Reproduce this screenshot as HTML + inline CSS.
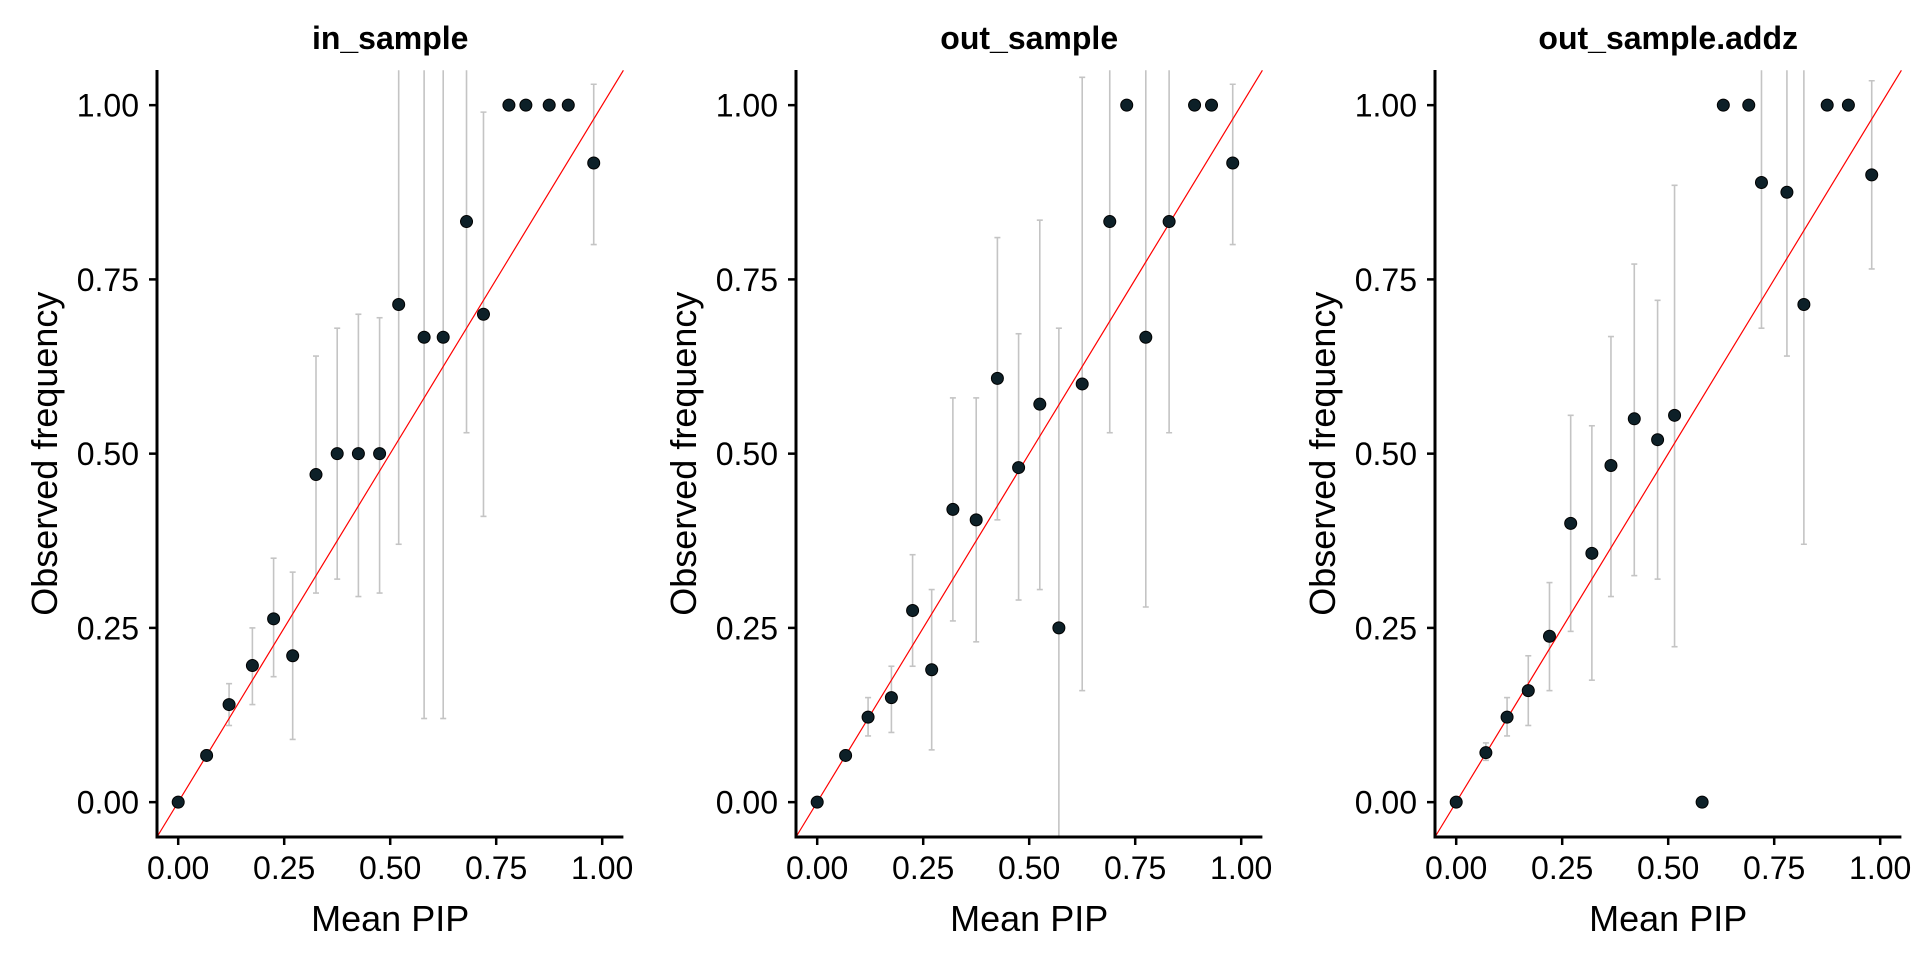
<!DOCTYPE html>
<html><head><meta charset="utf-8"><style>
html,body{margin:0;padding:0;background:#fff;}
svg{display:block;font-family:"Liberation Sans",Arial,sans-serif;}
</style></head><body>
<svg id="chart" width="1920" height="960" viewBox="0 0 1920 960"></svg>
<script>
const panelTitles = ["in_sample", "out_sample", "out_sample.addz"];
const tickValues = [0, 0.25, 0.5, 0.75, 1];
const tickLabels = ["0.00", "0.25", "0.50", "0.75", "1.00"];
const inX  = [0,0.067,0.12,0.175,0.225,0.27,0.325,0.375,0.425,0.475,0.52,0.58,0.625,0.68,0.72,0.78,0.82,0.875,0.92,0.98];
const inY  = [0,0.067,0.14,0.196,0.263,0.21,0.47,0.5,0.5,0.5,0.714,0.667,0.667,0.833,0.70,1,1,1,1,0.917];
const inLo = [null,0.06,0.11,0.14,0.18,0.09,0.30,0.32,0.295,0.30,0.37,0.12,0.12,0.53,0.41,null,null,null,null,0.80];
const inHi = [null,0.075,0.17,0.25,0.35,0.33,0.64,0.68,0.70,0.695,1.1,1.1,1.1,1.1,0.99,null,null,null,null,1.03];
const outX  = [0,0.067,0.12,0.175,0.225,0.27,0.32,0.375,0.425,0.475,0.525,0.57,0.625,0.69,0.73,0.775,0.83,0.89,0.93,0.98];
const outY  = [0,0.067,0.122,0.15,0.275,0.19,0.42,0.405,0.608,0.48,0.571,0.25,0.6,0.833,1,0.667,0.833,1,1,0.917];
const outLo = [null,0.06,0.095,0.10,0.195,0.075,0.26,0.23,0.405,0.29,0.305,-0.1,0.16,0.53,null,0.28,0.53,null,null,0.80];
const outHi = [null,0.075,0.15,0.195,0.355,0.305,0.58,0.58,0.81,0.672,0.835,0.68,1.04,1.1,null,1.1,1.1,null,null,1.03];
const azX  = [0,0.07,0.12,0.17,0.22,0.27,0.32,0.365,0.42,0.475,0.515,0.58,0.63,0.69,0.72,0.78,0.82,0.875,0.925,0.98];
const azY  = [0,0.071,0.122,0.16,0.238,0.4,0.357,0.483,0.55,0.52,0.555,0,1,1,0.889,0.875,0.714,1,1,0.9];
const azLo = [null,0.06,0.095,0.11,0.16,0.245,0.175,0.295,0.325,0.32,0.223,null,null,null,0.68,0.64,0.37,null,null,0.765];
const azHi = [null,0.085,0.15,0.21,0.315,0.555,0.54,0.668,0.772,0.72,0.885,null,null,null,1.1,1.1,1.1,null,null,1.035];

const panels = [[inX,inY,inLo,inHi],[outX,outY,outLo,outHi],[azX,azY,azLo,azHi]];
const NS = "http://www.w3.org/2000/svg";
const svg = document.getElementById("chart");
const AX0 = [157, 796, 1435], TOP = 70, BOT = 837, SPAN = 424, YSPAN = 697;
const DMIN = -0.05, DMAX = 1.05;
function mk(tag, attrs, parent) {
  const e = document.createElementNS(NS, tag);
  for (const k in attrs) e.setAttribute(k, attrs[k]);
  (parent || svg).appendChild(e);
  return e;
}
panels.forEach((p, i) => {
  const left = AX0[i], right = left + SPAN * 1.1;
  const sx = v => left + (v - DMIN) * SPAN;
  const sy = v => BOT - (v - DMIN) * YSPAN;
  const clamp = v => Math.max(DMIN, Math.min(DMAX, v));
  const g = mk("g", {});
  
  
  const cid = "clip" + i;
  const cp = mk("clipPath", {id: cid}, g);
  mk("rect", {x: left, y: TOP, width: right - left, height: BOT - TOP}, cp);
  const t = mk("text", {x: (left + right) / 2, y: 49, "text-anchor": "middle", "font-size": 32, "font-weight": "bold", fill: "#000"}, g);
  t.textContent = panelTitles[i];
  
  
  const [xs, ys, los, his] = p;
  xs.forEach((x, j) => {
    if (los[j] === null) return;
    const lo = clamp(los[j]), hi = clamp(his[j]);
    const eb = mk("g", {stroke: "#c4c4c4", "stroke-width": 1.6, "clip-path": "url(#" + cid + ")"}, g);
    
    
    mk("line", {x1: sx(x), x2: sx(x), y1: sy(lo), y2: sy(hi)}, eb);
    if (los[j] >= DMIN) mk("line", {x1: sx(x) - 3, x2: sx(x) + 3, y1: sy(lo), y2: sy(lo)}, eb);
    if (his[j] <= DMAX) mk("line", {x1: sx(x) - 3, x2: sx(x) + 3, y1: sy(hi), y2: sy(hi)}, eb);
  });
  const dl = mk("line", {x1: sx(DMIN), y1: sy(DMIN), x2: sx(DMAX), y2: sy(DMAX), stroke: "#ff0000", "stroke-width": 1.2}, g);
  
  
  xs.forEach((x, j) => {
    const c = mk("circle", {cx: sx(x), cy: sy(ys[j]), r: 6, fill: "#0d2028", stroke: "#000", "stroke-width": 1}, g);
    
    
  });
  const ya = mk("line", {x1: left, x2: left, y1: TOP, y2: BOT + 1.5, stroke: "#000", "stroke-width": 3}, g);
  
  
  const xa = mk("line", {x1: left - 1.5, x2: right, y1: BOT, y2: BOT, stroke: "#000", "stroke-width": 3}, g);
  
  
  tickValues.forEach((v, k) => {
    mk("line", {x1: left - 8, x2: left, y1: sy(v), y2: sy(v), stroke: "#000", "stroke-width": 2.5}, g);
    const yl = mk("text", {x: left - 18, y: sy(v) + 11.5, "text-anchor": "end", "font-size": 32, fill: "#000"}, g);
    yl.textContent = tickLabels[k];
    
    
    mk("line", {x1: sx(v), x2: sx(v), y1: BOT, y2: BOT + 8, stroke: "#000", "stroke-width": 2.5}, g);
    const xl = mk("text", {x: sx(v), y: 879, "text-anchor": "middle", "font-size": 32, fill: "#000"}, g);
    xl.textContent = tickLabels[k];
    
    
  });
  const xt = mk("text", {x: sx(0.5), y: 931, "text-anchor": "middle", "font-size": 36, fill: "#000"}, g);
  xt.textContent = "Mean PIP";
  
  
  const ytx = left - 100, yty = sy(0.5);
  const yt = mk("text", {x: ytx, y: yty, "text-anchor": "middle", "font-size": 36, fill: "#000", transform: "rotate(-90 " + ytx + " " + yty + ")"}, g);
  yt.textContent = "Observed frequency";
  
  
});
</script>
</body></html>
